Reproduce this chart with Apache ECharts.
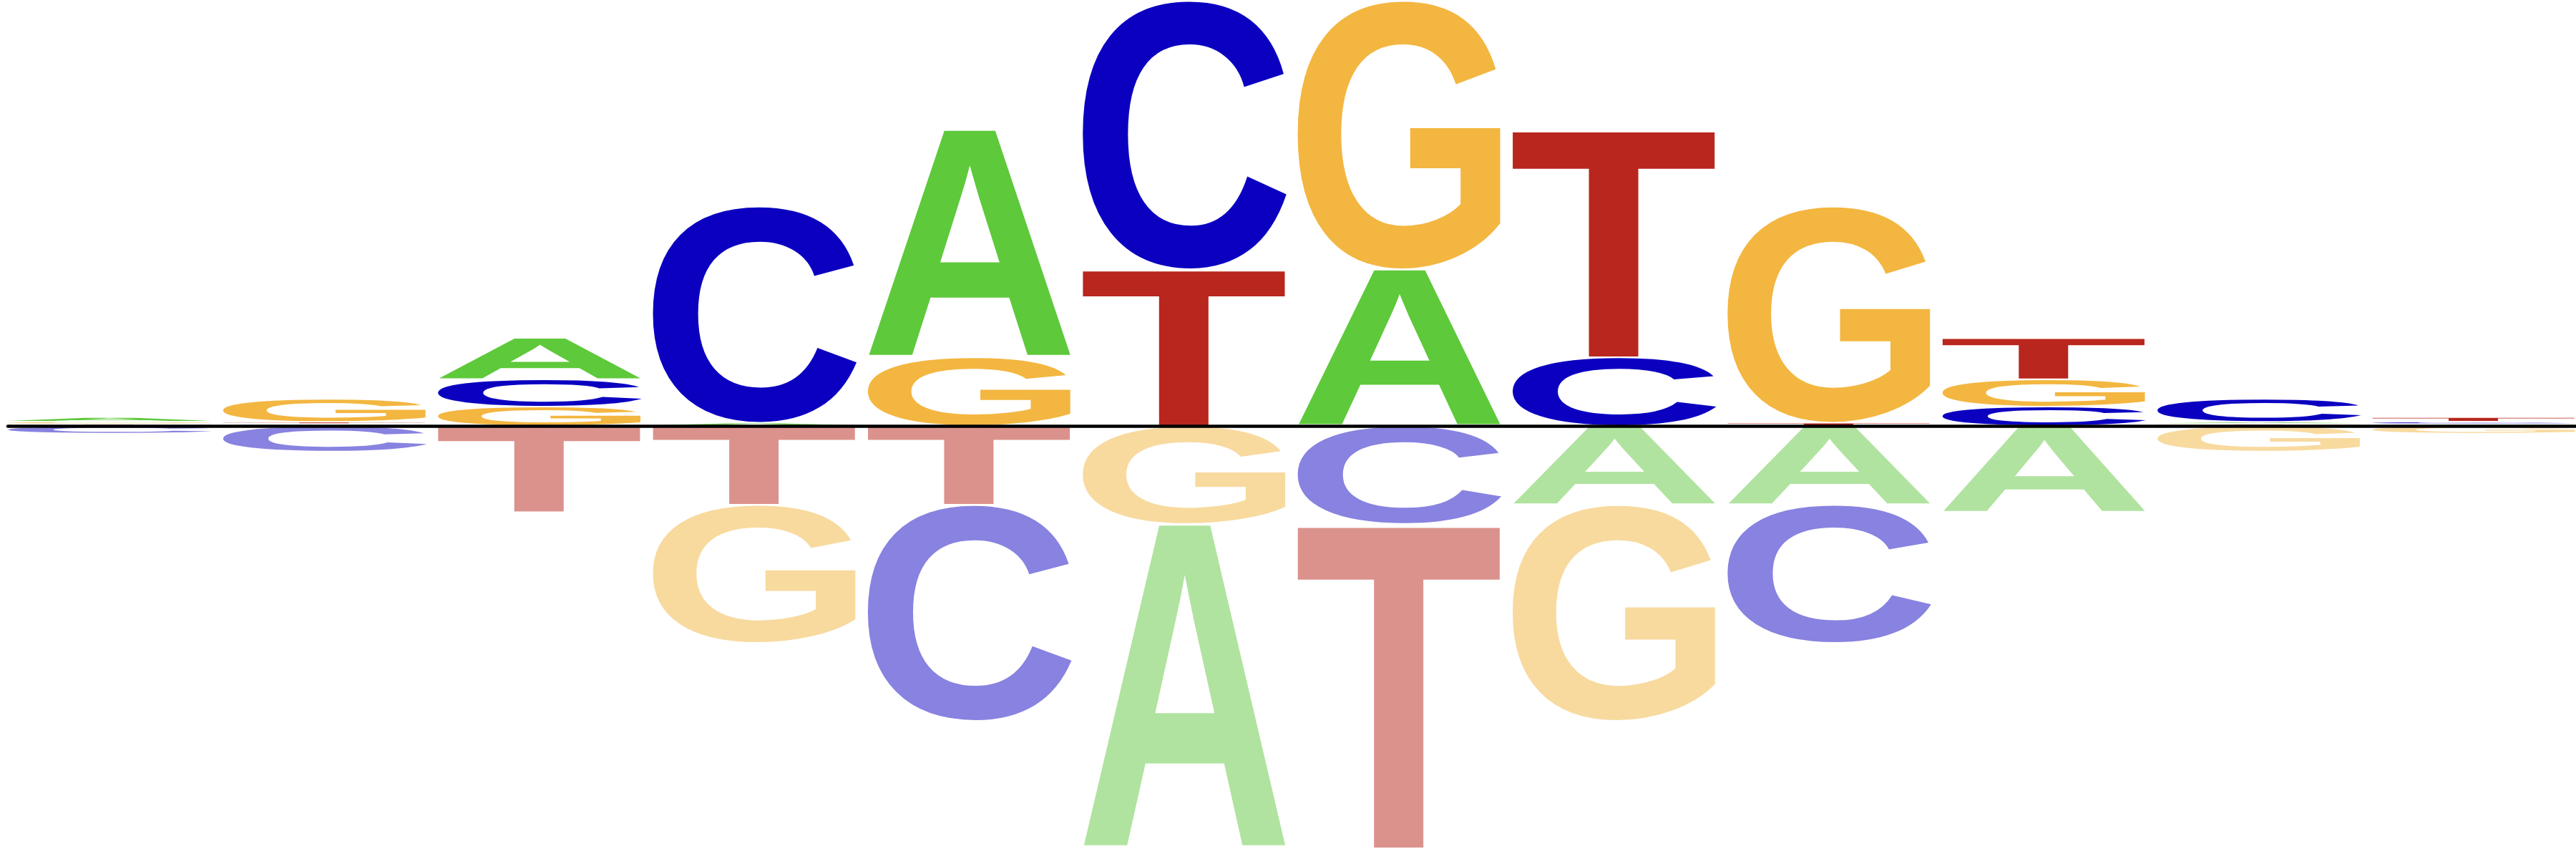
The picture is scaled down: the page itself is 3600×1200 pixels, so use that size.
<!DOCTYPE html>
<html>
<head>
<meta charset="utf-8">
<script src="https://cdn.jsdelivr.net/npm/echarts@6/dist/echarts.min.js"></script>
<style>
html,body{margin:0;padding:0;background:#ffffff;}
#chart{width:3600px;height:1200px;}
</style>
</head>
<body>
<div id="chart"></div>
<script>
// ---- data (heights in bits) ----
const positions = ['1','2','3','4','5','6','7','8','9','10','11','12'];
const bases = ['A','C','G','T'];
// stacked above the baseline
const upA = [0.021, 0.009, 0.195, 0.015, 1.069, 0,     0.736, 0,     0,     0,     0.010, 0.009];
const upC = [0,     0,     0.128, 1.017, 0,     1.262, 0,     0.323, 0,     0.091, 0.108, 0.011];
const upG = [0.011, 0.108, 0.091, 0,     0.323, 0,     1.262, 0,     1.017, 0.128, 0,     0];
const upT = [0.009, 0.010, 0,     0,     0,     0.736, 0,     1.069, 0.015, 0.195, 0.009, 0.021];
// stacked below the baseline
const downA = [0,     0,     0,     0,     0,     1.523, 0,     0.370, 0.370, 0.405, 0,     0];
const downC = [0.036, 0.120, 0,     0,     1.015, 0,     0.460, 0,     0.649, 0,     0,     0];
const downG = [0,     0,     0,     0.649, 0,     0.460, 0,     1.015, 0,     0,     0.120, 0.036];
const downT = [0,     0,     0.405, 0.370, 0.370, 0,     1.523, 0,     0,     0,     0,     0];

// ---- styles ----
const darkColors  = {A:'#5EC93B', C:'#0B00C0', G:'#F3B640', T:'#B9261D'};
const lightColors = {A:'#B0E39F', C:'#8882E0', G:'#F8DA9F', T:'#DB928D'};
const FONT = "bold 200px 'Liberation Sans', Arial, sans-serif";
const HALF_W = 0.4745;
const PAD = 1;

// glyph ink metrics measured with textBaseline 'middle'
const mctx = document.createElement('canvas').getContext('2d');
mctx.font = FONT; mctx.textBaseline = 'middle'; mctx.textAlign = 'left';
const metrics = {};
bases.forEach(b => {
  const m = mctx.measureText(b);
  metrics[b] = {l: m.actualBoundingBoxLeft, r: m.actualBoundingBoxRight,
                a: m.actualBoundingBoxAscent, d: m.actualBoundingBoxDescent};
});

const upArr = {A: upA, C: upC, G: upG, T: upT};
const downArr = {A: downA, C: downC, G: downG, T: downT};

const items = [];
positions.forEach((p, i) => {
  const ups = bases.map((b, k) => [k, upArr[b][i]]).filter(d => d[1] > 0).sort((a, b) => a[1] - b[1]);
  let cum = 0;
  ups.forEach(([k, v]) => { items.push([i, cum, cum + v, k, 0]); cum += v; });
  const downs = bases.map((b, k) => [k, downArr[b][i]]).filter(d => d[1] > 0).sort((a, b) => a[1] - b[1]);
  cum = 0;
  downs.forEach(([k, v]) => { items.push([i, -cum, -(cum + v), k, 1]); cum += v; });
});

function renderItem(params, api) {
  const i = api.value(0), y0 = api.value(1), y1 = api.value(2);
  const b = bases[api.value(3)], neg = api.value(4) === 1;
  const pTL = api.coord([i - HALF_W, Math.max(y0, y1)]);
  const pBR = api.coord([i + HALF_W, Math.min(y0, y1)]);
  const left = pTL[0], right = pBR[0];
  let top = pTL[1] + PAD, bottom = pBR[1] - PAD;
  if (bottom - top < 0.4) { const c = (top + bottom) / 2; top = c - 0.2; bottom = c + 0.2; }
  const m = metrics[b];
  const sx = (right - left) / (m.l + m.r);
  const sy = (bottom - top) / (m.a + m.d);
  return {
    type: 'text',
    x: left + sx * m.l,
    y: top + sy * m.a,
    scaleX: sx,
    scaleY: sy,
    style: {
      text: b, font: FONT, x: 0, y: 0,
      align: 'left', verticalAlign: 'middle',
      fill: neg ? lightColors[b] : darkColors[b]
    }
  };
}

const chart = echarts.init(document.getElementById('chart'), null, {renderer: 'canvas'});
chart.setOption({
  animation: false,
  backgroundColor: '#ffffff',
  grid: {left: 11, right: 0, top: 0, bottom: 10},
  xAxis: {
    type: 'value', min: -HALF_W, max: positions.length - 1 + HALF_W,
    z: 10,
    axisLine: {show: true, onZero: true, lineStyle: {color: '#000000', width: 4.5}},
    axisTick: {show: false}, axisLabel: {show: false}, splitLine: {show: false}
  },
  yAxis: {
    type: 'value', min: -2, max: 2, show: false,
    axisLine: {show: false}, splitLine: {show: false}
  },
  series: [{
    type: 'custom',
    renderItem: renderItem,
    encode: {x: 0, y: [1, 2]},
    data: items,
    clip: false,
    silent: true
  }]
});
</script>
</body>
</html>
